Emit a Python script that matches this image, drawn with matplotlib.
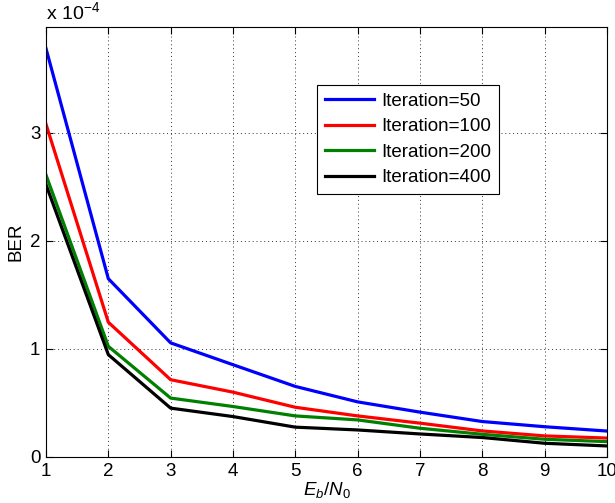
import matplotlib
matplotlib.use('Agg')
import matplotlib.pyplot as plt

# BER values in units of 1e-4
ebn0 = [1, 2, 3, 4, 5, 6, 7, 8, 9, 10]
ber_50 = [3.78, 1.65, 1.056, 0.854, 0.653, 0.51, 0.415, 0.328, 0.28, 0.24]
ber_100 = [3.08, 1.247, 0.715, 0.60, 0.46, 0.38, 0.313, 0.241, 0.195, 0.175]
ber_200 = [2.61, 1.024, 0.545, 0.467, 0.38, 0.343, 0.266, 0.21, 0.164, 0.142]
ber_400 = [2.52, 0.947, 0.452, 0.374, 0.276, 0.25, 0.213, 0.18, 0.127, 0.102]
labels = ['Iteration=50', 'Iteration=100', 'Iteration=200', 'Iteration=400']
colors = ['#0000ff', '#ff0000', '#008000', '#000000']

plt.rcParams['font.family'] = ['Liberation Sans', 'DejaVu Sans']
plt.rcParams['mathtext.fontset'] = 'custom'
plt.rcParams['mathtext.rm'] = 'Liberation Sans'
plt.rcParams['mathtext.it'] = 'Liberation Sans:italic'

fig = plt.figure(figsize=(6.15, 5.03), dpi=100)
ax = fig.add_axes([0.0748, 0.0915, 0.912, 0.855])

for ys, lab, c in zip([ber_50, ber_100, ber_200, ber_400], labels, colors):
    ax.plot(ebn0, ys, color=c, linewidth=2.3, label=lab)

ax.set_xlim(1, 10)
ax.set_ylim(0, 3.98)
ax.set_xticks(range(1, 11))
ax.set_yticks([0, 1, 2, 3])
ax.tick_params(direction='in', top=True, right=True, labelsize=13.5, length=5, pad=4)
ax.grid(True, linestyle=(0, (1, 3)), color='#333333', linewidth=0.7)
for s in ax.spines.values():
    s.set_linewidth(0.8)

ax.set_xlabel('$E_b/N_0$', fontsize=13.5, labelpad=0)
ax.set_ylabel('BER', fontsize=13.5, labelpad=4)
ax.text(0, 1.01, r'x 10$^{\mathregular{-4}}$', transform=ax.transAxes, fontsize=14,
        ha='left', va='bottom')

leg = ax.legend(loc='upper left', bbox_to_anchor=(0.484, 0.865), fontsize=13.5,
                fancybox=False, edgecolor='black', framealpha=1,
                handlelength=2.6, handletextpad=0.4, borderpad=0.4,
                labelspacing=0.45, borderaxespad=0)
leg.get_frame().set_linewidth(0.8)

fig.savefig('out.png', dpi=100)
